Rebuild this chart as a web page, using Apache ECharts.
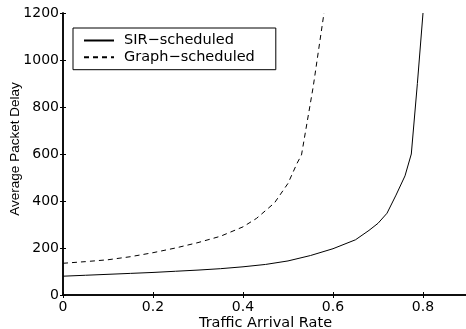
<!DOCTYPE html>
<html><head><meta charset="utf-8">
<script src="https://cdn.jsdelivr.net/npm/echarts@6/dist/echarts.min.js"></script>
<style>html,body{margin:0;padding:0;background:#fff}#c{width:466px;height:329px}</style>
</head><body><div id="c"></div>
<script>
const sirX = [0,0.05,0.1,0.15,0.2,0.25,0.3,0.35,0.4,0.45,0.5,0.55,0.6,0.65,0.68,0.7,0.72,0.74,0.76,0.774,0.7875,0.8];
const sirY = [80,84,88,92,96,101,106,112,120,130,145,168,197,235,275,305,348,425,507,600,900,1200];
const graphX = [0,0.05,0.1,0.15,0.2,0.25,0.3,0.35,0.4,0.43,0.47,0.5,0.52,0.53,0.556,0.58];
const graphY = [135,142,150,163,180,200,223,250,290,326,392,475,560,596,886,1200];
const xTicks = [0,0.2,0.4,0.6,0.8];
const yTicks = [0,200,400,600,800,1000,1200];
const names = ['SIR\u2212scheduled','Graph\u2212scheduled'];

const font = 'DejaVu Sans';
const pair = (xs, ys) => xs.map((x,i)=>[x, ys[i]]);
const chart = echarts.init(document.getElementById('c'), null, {renderer:'canvas'});
const axLine = {show:true, lineStyle:{color:'#000', width:1.5}};
chart.setOption({
  animation:false,
  backgroundColor:'#fff',
  textStyle:{fontFamily:font},
  grid:{left:63, right:-2, top:13, bottom:34, containLabel:false, outerBoundsMode:'none'},
  legend:{
    orient:'vertical', left:73, top:28,
    padding:[5,21,5,10],
    itemWidth:30, itemHeight:14, itemGap:1.7,
    backgroundColor:'#fff', borderColor:'#000', borderWidth:1, borderRadius:0,
    itemStyle:{opacity:0},
    textStyle:{fontFamily:font, fontSize:14.5, color:'#000', lineHeight:14, padding:[0,0,0,5]},
    data:names
  },
  xAxis:[{
    type:'value', min:0, max:0.9, interval:0.2,
    axisLine:axLine,
    axisTick:{show:true, inside:true, length:3, lineStyle:{color:'#000'}},
    axisLabel:{color:'#000', fontSize:14, fontFamily:font, margin:5,
      formatter:v => xTicks.includes(Math.round(v*10)/10) ? String(Math.round(v*10)/10) : ''},
    splitLine:{show:false},
    name:'Traffic Arrival Rate', nameLocation:'middle', nameGap:21, nameMoveOverlap:false,
    nameTextStyle:{color:'#000', fontSize:14.5, fontFamily:font}
  },{
    type:'value', position:'top', min:0, max:0.9, interval:0.2,
    axisLine:axLine,
    axisTick:{show:true, inside:true, length:3, lineStyle:{color:'#000'}},
    axisLabel:{show:false}, splitLine:{show:false}
  }],
  yAxis:[{
    type:'value', min:0, max:1200, interval:200,
    axisLine:axLine,
    axisTick:{show:true, inside:true, length:3, lineStyle:{color:'#000'}},
    axisLabel:{color:'#000', fontSize:14, fontFamily:font, margin:4,
      formatter:v => yTicks.includes(v) ? String(v) : ''},
    splitLine:{show:false},
    name:'Average Packet Delay', nameLocation:'middle', nameGap:41, nameMoveOverlap:false,
    nameTextStyle:{color:'#000', fontSize:13.5, fontFamily:'Liberation Sans', padding:[0,0,0,10]}
  },{
    type:'value', position:'right', min:0, max:1200, interval:200,
    axisLine:axLine,
    axisTick:{show:true, inside:true, length:3, lineStyle:{color:'#000'}},
    axisLabel:{show:false}, splitLine:{show:false}
  }],
  series:[{
    name:names[0], type:'line', xAxisIndex:0, yAxisIndex:0,
    data:pair(sirX, sirY), showSymbol:false, symbol:'none',
    lineStyle:{color:'#000', width:1, type:'solid'}, itemStyle:{color:'#000'}
  },{
    name:names[1], type:'line', xAxisIndex:0, yAxisIndex:0,
    data:pair(graphX, graphY), showSymbol:false, symbol:'none',
    lineStyle:{color:'#000', width:1, type:[5,4]}, itemStyle:{color:'#000'}
  }]
});
</script></body></html>
